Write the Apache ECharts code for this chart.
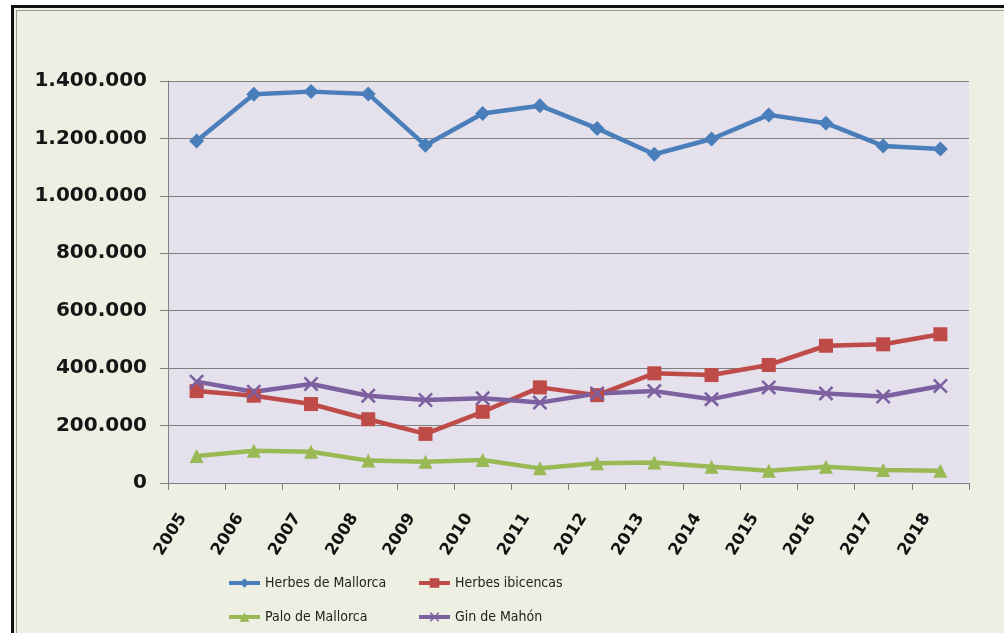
<!DOCTYPE html>
<html>
<head>
<meta charset="utf-8">
<script src="https://cdn.jsdelivr.net/npm/echarts@6/dist/echarts.min.js"></script>
<style>
    html, body { margin: 0; padding: 0; background: #ffffff; }
    #frame {
        position: absolute; left: 11px; top: 5px; width: 993px; height: 640px;
        background: #ECEFE1; border-top: 3px solid #111; border-left: 3px solid #111;
        box-shadow: inset 2px 2px 0 #EEF0E6, inset 3px 3px 0 #9a9a92;
    }
    #chart { position: absolute; left: 0; top: 0; width: 1004px; height: 633px; }
</style>
</head>
<body>
<div id="frame"></div>
<div id="chart"></div>
<script>
var years = ['2005', '2006', '2007', '2008', '2009', '2010', '2011', '2012', '2013', '2014', '2015', '2016', '2017', '2018'];
var herbesMallorca = [1191000, 1354000, 1363000, 1355000, 1176000, 1287000, 1314000, 1235000, 1145000, 1198000, 1282000, 1253000, 1174000, 1163000];
var herbesIbicencas = [320000, 304000, 275000, 222000, 171000, 248000, 333000, 306000, 382000, 376000, 411000, 478000, 483000, 518000];
var paloMallorca = [94000, 112000, 109000, 78000, 74000, 80000, 51000, 69000, 71000, 57000, 43000, 57000, 45000, 43000];
var ginMahon = [353000, 318000, 345000, 304000, 289000, 295000, 280000, 312000, 320000, 292000, 333000, 312000, 301000, 338000];

var xSymbol = 'path://M0,1.2L1.2,0L10,8.8L8.8,10Z M8.8,0L10,1.2L1.2,10L0,8.8Z';

function dotted(v) {
    return String(v).replace(/\B(?=(\d{3})+(?!\d))/g, '.');
}

function makeSeries(name, data, color, symbol, size) {
    return {
        name: name,
        type: 'line',
        data: data,
        symbol: symbol,
        symbolSize: size,
        showAllSymbol: true,
        lineStyle: { color: color, width: 4.5 },
        itemStyle: { color: color },
        emphasis: { disabled: true },
        animation: false
    };
}

var chartDom = document.getElementById('chart');
var myChart = echarts.init(chartDom);
var legendText = {
    fontFamily: "'Liberation Sans Narrow', 'DejaVu Sans Condensed', 'Liberation Sans', sans-serif",
    fontSize: 14, color: '#222', lineHeight: 18
};
function makeLegend(left, names) {
    return {
        orient: 'vertical', left: left, top: 574, itemGap: 16,
        itemWidth: 31, itemHeight: 12,
        lineStyle: { width: 4 },
        data: names,
        textStyle: legendText, padding: 0, selectedMode: false
    };
}
var option = {
    backgroundColor: 'transparent',
    grid: {
        left: 168, top: 81, right: 35, bottom: 150,
        show: true, backgroundColor: '#E4E0EC', borderWidth: 0
    },
    legend: [
        makeLegend(227, ['Herbes de Mallorca', 'Palo de Mallorca']),
        makeLegend(417, ['Herbes ibicencas', 'Gin de Mahón'])
    ],
    xAxis: {
        type: 'category',
        data: years,
        boundaryGap: true,
        axisLine: { lineStyle: { color: '#808080', width: 1 } },
        axisTick: { show: true, length: 7, lineStyle: { color: '#808080' } },
        axisLabel: {
            rotate: 58, margin: 10, interval: 0, padding: [0, 26, 0, 0],
            fontFamily: 'DejaVu Sans', fontWeight: 'bold', fontSize: 16.5, color: '#111'
        },
        splitLine: { show: false }
    },
    yAxis: {
        type: 'value',
        min: 0, max: 1400000, interval: 200000,
        axisLine: { show: true, lineStyle: { color: '#808080', width: 1 } },
        axisTick: { show: true, length: 8, lineStyle: { color: '#808080' } },
        axisLabel: {
            margin: 21,
            fontFamily: 'DejaVu Sans', fontWeight: 'bold', fontSize: 20, color: '#151515',
            formatter: dotted
        },
        splitLine: { lineStyle: { color: '#808080', width: 1 } }
    },
    series: [
        makeSeries('Herbes de Mallorca', herbesMallorca, '#4A7EBB', 'diamond', 15),
        makeSeries('Herbes ibicencas', herbesIbicencas, '#BE4B48', 'rect', 14),
        makeSeries('Palo de Mallorca', paloMallorca, '#98B954', 'triangle', 14),
        makeSeries('Gin de Mahón', ginMahon, '#7D60A0', xSymbol, 15)
    ]
};
option && myChart.setOption(option);
</script>
</body>
</html>
